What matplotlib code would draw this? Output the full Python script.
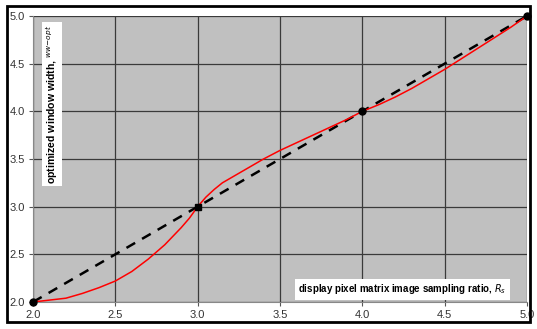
import matplotlib.pyplot as plt
from matplotlib.patches import Rectangle

plt.rcParams['font.family'] = ['Liberation Sans', 'DejaVu Sans']

# sampling ratio and optimized window width (red curve)
ratio = [2.0, 2.1, 2.2, 2.3, 2.4, 2.5, 2.6, 2.7, 2.8, 2.9, 2.95, 3.0, 3.05,
         3.1, 3.15, 3.2, 3.3, 3.4, 3.5, 3.6, 3.7, 3.8, 3.9, 4.0, 4.1, 4.2,
         4.3, 4.4, 4.5, 4.6, 4.7, 4.8, 4.9, 5.0]
width_opt = [2.0, 2.02, 2.04, 2.09, 2.15, 2.22, 2.32, 2.45, 2.6, 2.78, 2.88,
             3.0, 3.1, 3.18, 3.25, 3.3, 3.4, 3.5, 3.59, 3.67, 3.75, 3.83,
             3.91, 4.0, 4.07, 4.15, 4.24, 4.34, 4.44, 4.55, 4.66, 4.77, 4.88,
             5.0]

# integer ratios (dashed reference)
int_ratio = [2.0, 3.0, 4.0, 5.0]
int_width = [2.0, 3.0, 4.0, 5.0]

xticks = [2.0, 2.5, 3.0, 3.5, 4.0, 4.5, 5.0]
yticks = [2.0, 2.5, 3.0, 3.5, 4.0, 4.5, 5.0]

fig = plt.figure(figsize=(5.37, 3.29), dpi=100)
fig.patch.set_facecolor('white')
ax = fig.add_axes([33/537, 1-302/329, (527-33)/537, (302-16)/329])
ax.set_facecolor('#c0c0c0')

ax.plot(int_ratio, int_width, color='black', lw=1.8, dashes=(4, 3.2), zorder=3)
ax.plot(ratio, width_opt, color='red', lw=1.1, zorder=4)
ax.plot([int_ratio[0], int_ratio[2], int_ratio[3]], [int_width[0], int_width[2], int_width[3]],
        'o', color='black', ms=5, zorder=5, clip_on=False)
ax.plot([int_ratio[1]], [int_width[1]], 's', color='black', ms=5, zorder=5, clip_on=False)

ax.set_xlim(2.0, 5.0)
ax.set_ylim(2.0, 5.0)
ax.set_xticks(xticks)
ax.set_yticks(yticks)
ax.set_xticklabels(['%.1f' % v for v in xticks])
ax.set_yticklabels(['%.1f' % v for v in yticks])
ax.grid(True, color='#3a3a3a', lw=0.9)
ax.set_axisbelow(True)
ax.tick_params(labelsize=8, colors='#555555', labelcolor='#333333', length=3, width=0.8, pad=3)
for side in ['top', 'right']:
    ax.spines[side].set_visible(False)
for side in ['left', 'bottom']:
    ax.spines[side].set_color('#888888')

ax.text(2.065, 4.91, r'optimized window width, $^{\it{ww{-}opt}}$', rotation=90,
        ha='left', va='top', fontsize=7.6, fontweight='bold',
        bbox=dict(facecolor='white', edgecolor='none', pad=1.5))
ax.text(3.61, 2.06, r'display pixel matrix image sampling ratio, $\it{R}_s$',
        ha='left', va='bottom', fontsize=7, fontweight='bold',
        bbox=dict(facecolor='white', edgecolor='none', pad=2.5))

# outer frame
fig.patches.append(Rectangle((7/537, 1-322/329), (530-7)/537, (322-6)/329,
                             transform=fig.transFigure, fill=False,
                             edgecolor='black', lw=2))

fig.savefig('out.png', dpi=100)
